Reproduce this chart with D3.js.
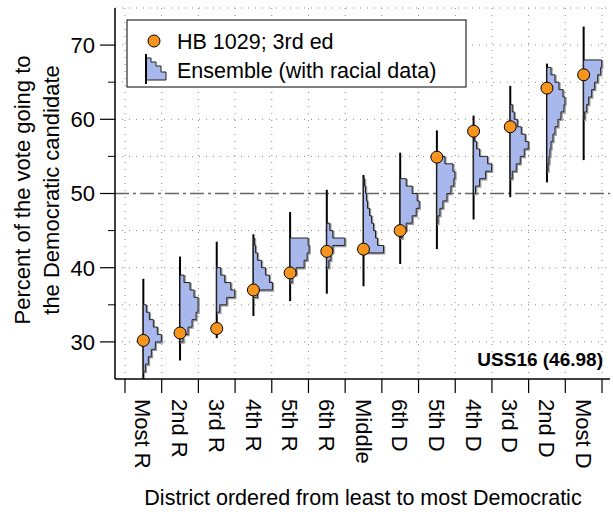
<!DOCTYPE html>
<html><head><meta charset="utf-8">
<script src="https://cdn.jsdelivr.net/npm/d3@7"></script>
<style>body{margin:0;background:#fff;font-family:"Liberation Sans",Arial,sans-serif}</style>
</head><body><svg id="c" width="613" height="514"></svg>
<script>
const categories=["Most R","2nd R","3rd R","4th R","5th R","6th R","Middle","6th D","5th D","4th D","3rd D","2nd D","Most D"];
const planValues=[30.2,31.2,31.8,37.0,39.3,42.2,42.5,45.0,54.9,58.4,59.0,64.2,66.0];
const tailLo=[25,27.5,30.5,33.5,35.5,36.5,37.5,40.5,42.5,46.5,49.5,51.5,54.5];
const tailHi=[38.5,41.5,43.5,44.5,47.5,50.5,52.5,55.5,58.5,60.5,64.5,67.5,72.5];
const binStart=[26,30,34,36,38,40,42,44,46,50,52,53,60];
const binCounts=[
[2,5,8,12,18,14,10,6,3],
[3,8,12,16,18,18,14,10,4],
[3,10,18,14,8,4],
[4,19,16,12,8,4,2,1],
[2,6,14,17,19,18],
[2,4,6,18,6,3],
[20,14,12,10,8,6,4,3,2,1],
[2,6,12,16,19,17,12,6],
[1,3,6,10,14,17,18,16,8],
[2,6,12,18,14,6,3,1],
[2,6,10,14,18,15,11,7,4,2],
[1,2,3,4,6,8,11,14,17,18,16,12,8,4],
[1,3,5,8,11,14,17,18]];
const yTicks=[30,40,50,60,70];
const yMinor=[35,45,55,65];

const svg=d3.select("#c");
const L=115,R=610,T=8,B=379;
const x=d3.scaleBand().domain(categories).range([125,602]);
const y=d3.scaleLinear().domain([25,75]).range([B,T]);
const w=d3.scaleLinear().domain([0,19]).range([0,19]);
// grid
svg.append("g").selectAll("line").data(d3.range(categories.length+1)).join("line")
 .attr("x1",i=>125+i*x.step()).attr("x2",i=>125+i*x.step()).attr("y1",T).attr("y2",B)
 .attr("stroke","#888").attr("stroke-width",1).attr("stroke-dasharray","1,6");
svg.append("g").selectAll("line").data([30,35,40,45,55,60,65,70,75]).join("line")
 .attr("x1",L).attr("x2",R).attr("y1",d=>y(d)).attr("y2",d=>y(d))
 .attr("stroke","#888").attr("stroke-dasharray","1,6");
svg.append("line").attr("x1",L).attr("x2",R).attr("y1",y(50)).attr("y2",y(50))
 .attr("stroke","#666").attr("stroke-width",1.5).attr("stroke-dasharray","14,4,3,4");
// histograms
categories.forEach((c,i)=>{
  const cx=x(c)+x.bandwidth()/2;
  svg.append("line").attr("x1",cx).attr("x2",cx).attr("y1",y(tailLo[i])).attr("y2",y(tailHi[i]))
   .attr("stroke","#000").attr("stroke-width",2);
  const pts=[[cx,y(binStart[i])]];
  binCounts[i].forEach((n,j)=>{
    const v0=binStart[i]+j,v1=v0+1;
    pts.push([cx+w(n),y(v0)]);pts.push([cx+w(n),y(v1)]);
  });
  pts.push([cx,y(binStart[i]+binCounts[i].length)]);
  const line=d3.line();
  svg.append("path").attr("d",line(pts.map(p=>[p[0]+1,p[1]+1]))+"Z").attr("fill","none").attr("stroke","#999").attr("stroke-width",1.5);
  svg.append("path").attr("d",line(pts)+"Z").attr("fill","#a8b8ec").attr("stroke","#222").attr("stroke-width",1);
  svg.append("circle").attr("cx",cx).attr("cy",y(planValues[i])).attr("r",6)
   .attr("fill","#f7941d").attr("stroke","#000").attr("stroke-width",1);
});
// axes
svg.append("line").attr("x1",L).attr("x2",L).attr("y1",T).attr("y2",B).attr("stroke","#000").attr("stroke-width",1.5);
svg.append("line").attr("x1",L).attr("x2",R).attr("y1",B).attr("y2",B).attr("stroke","#000").attr("stroke-width",1.5);
yTicks.forEach(t=>{
  svg.append("line").attr("x1",L-15).attr("x2",L).attr("y1",y(t)).attr("y2",y(t)).attr("stroke","#000").attr("stroke-width",1.2);
  svg.append("text").attr("x",L-20).attr("y",y(t)).attr("dy","0.36em").attr("text-anchor","end").attr("font-size",22).text(t);
});
yMinor.forEach(t=>{
  svg.append("line").attr("x1",L-7).attr("x2",L).attr("y1",y(t)).attr("y2",y(t)).attr("stroke","#000").attr("stroke-width",1);
});
d3.range(categories.length+1).forEach(i=>{
  const xx=125+i*x.step();
  svg.append("line").attr("x1",xx).attr("x2",xx).attr("y1",B).attr("y2",B+14).attr("stroke","#000").attr("stroke-width",1.2);
});
categories.forEach(c=>{
  const cx=x(c)+x.bandwidth()/2;
  svg.append("text").attr("transform",`translate(${cx},${B+20}) rotate(90)`).attr("dy","0.36em")
   .attr("font-size",22).text(c);
});
svg.append("text").attr("transform",`translate(30,190) rotate(-90)`).attr("text-anchor","middle").attr("font-size",22).text("Percent of the vote going to");
svg.append("text").attr("transform",`translate(59,190) rotate(-90)`).attr("text-anchor","middle").attr("font-size",22).text("the Democratic candidate");
svg.append("text").attr("x",363).attr("y",505).attr("text-anchor","middle").attr("font-size",21.5).text("District ordered from least to most Democratic");
svg.append("text").attr("x",603).attr("y",366).attr("text-anchor","end").attr("font-size",19).attr("font-weight","bold").text("USS16 (46.98)");
// legend
const lg=svg.append("g");
lg.append("rect").attr("x",127).attr("y",20).attr("width",339).attr("height",67).attr("fill","#fff").attr("stroke","#000").attr("stroke-width",1);
lg.append("circle").attr("cx",154).attr("cy",41).attr("r",6).attr("fill","#f7941d").attr("stroke","#000");
lg.append("text").attr("x",177).attr("y",41).attr("dy","0.36em").attr("font-size",21.5).text("HB 1029; 3rd ed");
const lp=[[146,58],[146,80],[166,80],[166,72],[161,72],[161,66],[156,66],[156,62],[151,62],[151,58]];
lg.append("path").attr("d",d3.line()(lp)+"Z").attr("fill","#a8b8ec").attr("stroke","#222");
lg.append("line").attr("x1",146).attr("x2",146).attr("y1",54).attr("y2",84).attr("stroke","#000").attr("stroke-width",2);
lg.append("text").attr("x",177).attr("y",70).attr("dy","0.36em").attr("font-size",21.5).text("Ensemble (with racial data)");
</script></body></html>
